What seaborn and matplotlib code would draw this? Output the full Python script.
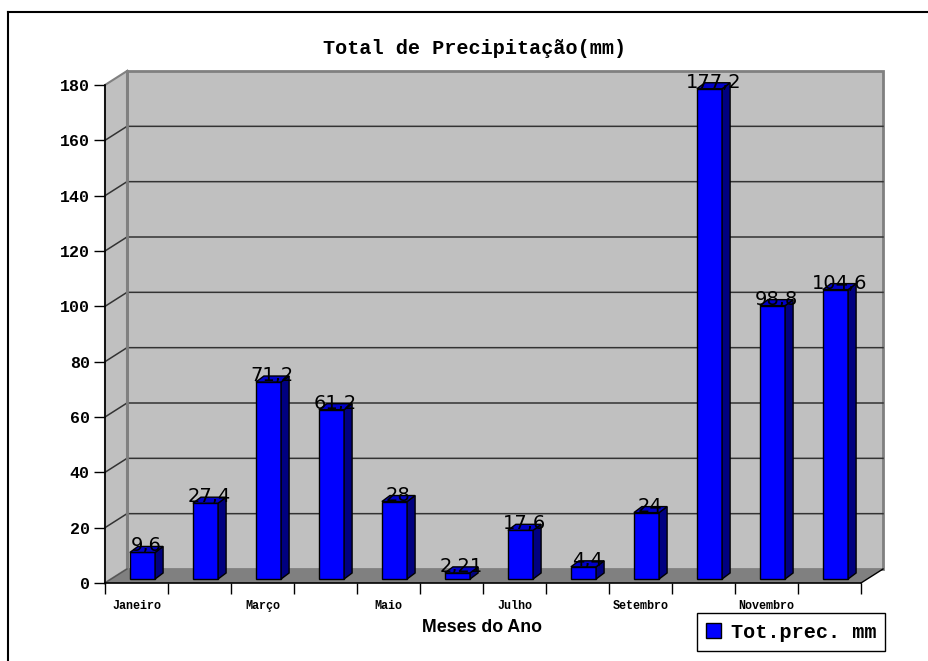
import matplotlib
matplotlib.use("Agg")
import matplotlib.pyplot as plt
import seaborn as sns
from matplotlib.patches import Polygon, Patch
from matplotlib.lines import Line2D
from matplotlib.font_manager import FontProperties

# ---------------- data ----------------
months = ["Janeiro", "Fevereiro", "Março", "Abril", "Maio", "Junho",
          "Julho", "Agosto", "Setembro", "Outubro", "Novembro", "Dezembro"]
precip = [9.6, 27.4, 71.2, 61.2, 28, 2.21, 17.6, 4.4, 24, 177.2, 98.8, 104.6]
yticks = [0, 20, 40, 60, 80, 100, 120, 140, 160, 180]
title = "Total de Precipitação(mm)"
xlabel = "Meses do Ano"
series_name = "Tot.prec. mm"

# ---------------- figure ----------------
W, H = 929, 661
fig = plt.figure(figsize=(W / 100, H / 100), dpi=100)
ax_l, ax_b, ax_w, ax_h = 105, 78, 756, 498
ax = fig.add_axes([ax_l / W, ax_b / H, ax_w / W, ax_h / H])
ax.patch.set_visible(False)

n = len(months)
ymax = 180
ax.set_xlim(-0.5, n - 0.5)
ax.set_ylim(0, ymax)
ppx = ax_w / n          # pixels per category
ppy = ax_h / ymax       # pixels per mm

def dx(p):
    return p / ppx

def dy(p):
    return p / ppy

wx, wy = dx(22), dy(14)   # wall depth
ox, oy = dx(6), dy(4)     # bar offset into the floor
bx, by = dx(8), dy(6)     # bar depth

x0, x1 = -0.5, n - 0.5
wall_grey = "#C0C0C0"
edge_grey = "#808080"

# back wall
ax.add_patch(Polygon([(x0 + wx, wy), (x1 + wx, wy), (x1 + wx, ymax + wy), (x0 + wx, ymax + wy)],
                     closed=True, facecolor=wall_grey, edgecolor=edge_grey, lw=2,
                     zorder=0.2, clip_on=False))
# side wall
ax.add_patch(Polygon([(x0, 0), (x0 + wx, wy), (x0 + wx, ymax + wy), (x0, ymax)],
                     closed=True, facecolor=wall_grey, edgecolor=edge_grey, lw=1.5,
                     zorder=0.3, clip_on=False))
# gridlines
for v in yticks[1:-1]:
    ax.plot([x0, x0 + wx, x1 + wx], [v, v + wy, v + wy], color="#333333", lw=1.1,
            zorder=0.4, clip_on=False)
# re-draw wall edge line on top
ax.plot([x0 + wx, x0 + wx], [wy, ymax + wy], color=edge_grey, lw=2, zorder=0.45, clip_on=False)
# floor
ax.add_patch(Polygon([(x0, 0), (x1, 0), (x1 + wx, wy), (x0 + wx, wy)],
                     closed=True, facecolor=edge_grey, edgecolor="none",
                     zorder=0.5, clip_on=False))
ax.plot([x1, x1 + wx], [0, wy], color="black", lw=1, zorder=0.6, clip_on=False)
ax.plot([x0, x0 + wx], [0, wy], color="#555555", lw=1, zorder=0.6, clip_on=False)

# ---------------- bars ----------------
sns.barplot(x=months, y=precip, order=months, color="#0000FF", saturation=1,
            width=0.4, edgecolor="black", linewidth=1, ax=ax, zorder=2)

for p, val in zip(ax.patches[-n:], precip):
    p.set_x(p.get_x() + ox)
    p.set_y(oy)
    p.set_clip_on(False)
    xl = p.get_x()
    xr = xl + p.get_width()
    yb = p.get_y()
    yt = yb + p.get_height()
    side = Polygon([(xr, yb), (xr + bx, yb + by), (xr + bx, yt + by), (xr, yt)], closed=True,
                   facecolor="#000080", edgecolor="black", lw=1, zorder=2.1, clip_on=False)
    top = Polygon([(xl, yt), (xr, yt), (xr + bx, yt + by), (xl + bx, yt + by)], closed=True,
                  facecolor="#0000C8", edgecolor="black", lw=1, zorder=2.1, clip_on=False)
    ax.add_patch(side)
    ax.add_patch(top)
    lab = f"{val:g}".replace(".", ",")
    ax.text((xl + xr) / 2 + bx / 2, yt + dy(1), lab, ha="center", va="baseline",
            fontsize=14, color="black", family="DejaVu Sans", zorder=3)

# ---------------- axes styling ----------------
for s in ["top", "right"]:
    ax.spines[s].set_visible(False)
for s in ["left", "bottom"]:
    ax.spines[s].set_color("black")
    ax.spines[s].set_linewidth(1.2)

mono_b = dict(family="Liberation Mono", weight="bold")
ax.set_yticks(yticks)
ax.set_yticklabels([str(v) for v in yticks], fontsize=12, **mono_b)
ax.tick_params(axis="y", direction="out", length=8, width=1, pad=3, color="black")

ax.set_xticks([i - 0.5 for i in range(n + 1)])
ax.set_xticklabels([""] * (n + 1))
ax.set_xticks(list(range(n)), minor=True)
ax.set_xticklabels([m if i % 2 == 0 else "" for i, m in enumerate(months)], minor=True,
                   fontsize=8.5, **mono_b)
ax.tick_params(axis="x", which="major", direction="out", length=8, width=1, color="black")
ax.tick_params(axis="x", which="minor", length=0, pad=12)
ax.set_xlabel("")
ax.set_ylabel("")

# ---------------- texts ----------------
fig.text(475 / W, 1 - 48 / H, title, ha="center", va="center", fontsize=14.5, **mono_b)
fig.text(482.5 / W, 1 - 627 / H, xlabel, ha="center", va="center", fontsize=12.75,
         family="Liberation Sans", weight="bold")

leg = fig.legend(handles=[Patch(facecolor="#0000FF", edgecolor="black", label=series_name)],
                 loc="center", bbox_to_anchor=(791 / W, 1 - 632 / H), frameon=True,
                 fancybox=False, edgecolor="black", framealpha=1,
                 prop=FontProperties(family="Liberation Mono", weight="bold", size=14.5),
                 handlelength=0.75, handleheight=0.75, handletextpad=0.5, borderpad=0.45,
                 borderaxespad=0)
leg.get_frame().set_linewidth(1)

# outer frame (top and left edges visible)
fig.add_artist(Line2D([8 / W, 8 / W], [0, 1 - 12 / H], color="black", lw=1.5,
                      transform=fig.transFigure))
fig.add_artist(Line2D([8 / W, 1], [1 - 12 / H, 1 - 12 / H], color="black", lw=1.5,
                      transform=fig.transFigure))

fig.savefig("out.png", dpi=100, facecolor="white")
